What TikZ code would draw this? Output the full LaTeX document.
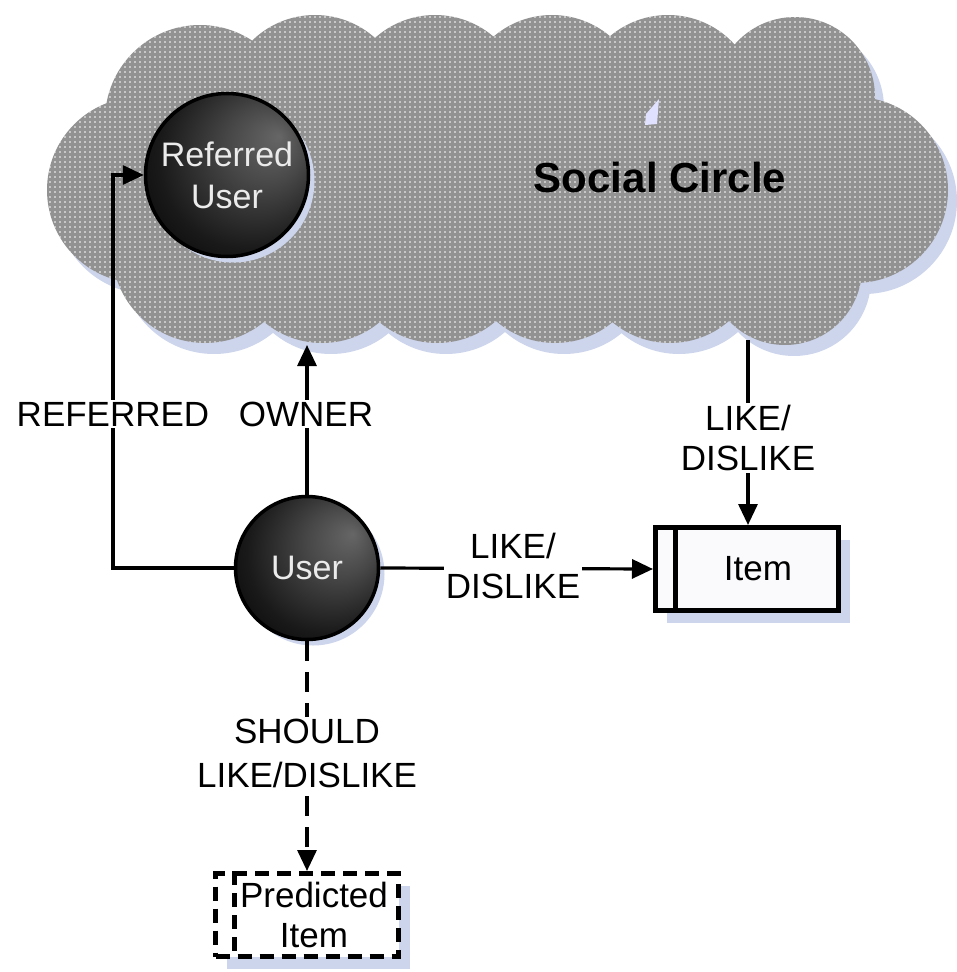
\documentclass[tikz,border=0pt]{standalone}
\usepackage{fontspec}
\setmainfont{Liberation Sans}
\usetikzlibrary{arrows.meta,patterns,shadows}

% white dots on the grey cloud
\pgfdeclarepatternformonly{clouddots}{\pgfqpoint{-1pt}{-1pt}}{\pgfqpoint{1pt}{1pt}}{\pgfqpoint{5pt}{5pt}}%
  {\pgfpathcircle{\pgfqpoint{0pt}{0pt}}{0.9pt}\pgfusepath{fill}}

% glossy black sphere, lit from the upper right
\pgfdeclareradialshading{sphereshade}{\pgfpoint{16bp}{12bp}}{%
  color(0bp)=(black!60); color(12bp)=(black!72); color(28bp)=(black!90);
  color(42bp)=(black); color(50bp)=(black)}

\definecolor{cloudgray}{RGB}{146,146,146}
\definecolor{shadowblue}{RGB}{205,213,236}
\definecolor{itemfill}{RGB}{250,250,253}

\tikzset{
  cloudshape/.style={insert path={
    (200,120) circle[radius=95]
    (140,190) circle[radius=93]
    (315,105) circle[radius=90]
    (435,105) circle[radius=90]
    (552,105) circle[radius=90]
    (668,105) circle[radius=90]
    (795,97)  circle[radius=80]
    (855,190) circle[radius=93]
    (785,268) circle[radius=77]
    (205,250) circle[radius=93]
    (322,253) circle[radius=90]
    (437,253) circle[radius=90]
    (555,253) circle[radius=90]
    (670,253) circle[radius=90]
    (350,180) circle[radius=110]
    (500,180) circle[radius=110]
    (650,180) circle[radius=110]
    (760,190) circle[radius=100]
  }},
  sphere/.style={circle, draw=black, line width=3.5pt, shading=sphereshade,
    text=black!8, font=\fontsize{34}{42}\selectfont, align=center, inner sep=0pt,
    drop shadow={shadow xshift=6pt, shadow yshift=-6pt, fill=shadowblue, opacity=1}},
  lbl/.style={fill=white, inner sep=2pt, font=\fontsize{35}{40}\selectfont, align=center},
  conn/.style={line width=3.2pt, -{Triangle[length=21pt,width=19pt]}},
  dashconn/.style={conn, dash pattern=on 20pt off 11pt},
  itembox/.style={rectangle, draw=black, line width=5pt, fill=itemfill,
    minimum width=183pt, minimum height=83pt, inner sep=0pt,
    font=\fontsize{35}{40}\selectfont, align=center,
    drop shadow={shadow xshift=11pt, shadow yshift=-12pt, fill=shadowblue, opacity=1}},
  predbox/.style={itembox, fill=white, dash pattern=on 14pt off 8pt}
}

\begin{document}
\begin{tikzpicture}[x=1pt,y=-1pt]
  \fill[white] (0,0) rectangle (957,972);
  \useasboundingbox (0,0) rectangle (957,972);

  % the social circle cloud with its shadow
  \fill[shadowblue, shift={(9,11)}, cloudshape];
  \fill[cloudgray, cloudshape];
  \fill[pattern=clouddots, pattern color=white, cloudshape];
  \fill[white!88!blue] (646,114) -- (659,99) -- (657,124) -- (645,125) -- cycle;
  \node[font=\fontsize{42}{48}\selectfont\bfseries, anchor=base] (circlelbl) at (660,192) {Social Circle};

  % nodes
  \node[sphere, minimum size=163pt] (ref) at (227,175) {Referred\\User};
  \node[sphere, minimum size=143pt] (user) at (307,568) {User};
  \node[itembox] (item) at (747,569) {\hspace*{22pt}Item};
  \node[predbox] (pred) at (307,915) {\hspace*{14pt}Predicted\\\hspace*{14pt}Item};
  \draw[line width=5pt] ([xshift=22pt]item.north west) -- ([xshift=22pt]item.south west);
  \draw[line width=5pt, dash pattern=on 14pt off 8pt]
    ([xshift=21pt]pred.north west) -- ([xshift=21pt]pred.south west);

  % free ends on the cloud
  \coordinate (refbend) at (113,175);
  \coordinate (ownertip) at (307,345);
  \coordinate (cloudlike) at (748,340);

  % connectors
  \draw[conn] (user.west) -| (refbend) -- (ref.west);
  \draw[conn] (user.north) -- (ownertip);
  \draw[conn] (user.east) -- (item.west);
  \draw[conn] (cloudlike) -- (item.north -| cloudlike);
  \draw[dashconn] (user.south) -- (pred.north);

  % connector labels
  \node[lbl] (lref) at (113,414) {REFERRED};
  \node[lbl] (lown) at (306,414) {OWNER};
  \node[lbl] (luser) at (513,566) {LIKE/\\DISLIKE};
  \node[lbl] (lcloud) at (748,438) {LIKE/\\DISLIKE};
  \node[lbl] (lpred) at (307,753) {SHOULD\\[4pt]LIKE/DISLIKE};
\end{tikzpicture}
\end{document}
